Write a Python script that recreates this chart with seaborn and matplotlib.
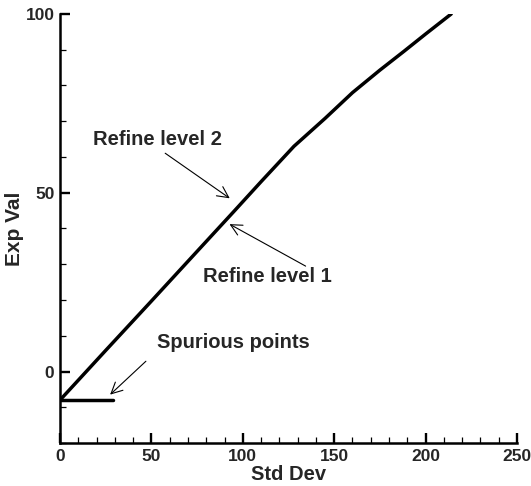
import numpy as np
import pandas as pd
import matplotlib
matplotlib.use("Agg")
import matplotlib.pyplot as plt
import seaborn as sns
from matplotlib.ticker import MultipleLocator

# main curve
std_dev = [0, 25, 50, 75, 95, 110, 128, 145, 160, 175, 188, 200, 214]
exp_val = [-8, 5.9, 19.7, 33.6, 44.7, 53.1, 63, 70.8, 78, 84.3, 89.5, 94.4, 100]

# spurious points along the bottom
spur_x = [0, 29]
spur_y = [-8, -8]

sns.set_style("ticks")
plt.rcParams["font.family"] = ["Liberation Sans", "DejaVu Sans"]
plt.rcParams["font.weight"] = "bold"

fig = plt.figure(figsize=(5.31, 4.86), dpi=100)
ax = fig.add_axes([60 / 531, 43 / 486, 457 / 531, 429 / 486])

df = pd.DataFrame({"Std Dev": std_dev, "Exp Val": exp_val})
sns.lineplot(data=df, x="Std Dev", y="Exp Val", color="black", lw=2.5,
             sort=False, estimator=None, ax=ax)
spur = pd.DataFrame({"Std Dev": spur_x, "Exp Val": spur_y})
sns.lineplot(data=spur, x="Std Dev", y="Exp Val", color="black", lw=2.5,
             sort=False, estimator=None, ax=ax)

ax.set_xlim(0, 250)
ax.set_ylim(-20, 100)
ax.xaxis.set_major_locator(MultipleLocator(50))
ax.xaxis.set_minor_locator(MultipleLocator(10))
ax.yaxis.set_major_locator(MultipleLocator(50))
ax.yaxis.set_minor_locator(MultipleLocator(10))
ax.set_yticks([0, 50, 100])

sns.despine(ax=ax)
for s in ["left", "bottom"]:
    ax.spines[s].set_linewidth(1.8)
    ax.spines[s].set_color("black")

ax.tick_params(which="major", direction="in", length=7, width=1.7,
               labelsize=12.5, pad=4, color="black")
ax.tick_params(which="minor", direction="in", length=4, width=0.9, color="black")
for lab in ax.get_xticklabels() + ax.get_yticklabels():
    lab.set_fontweight("bold")

ax.set_xlabel("Std Dev", fontsize=14.5, fontweight="bold", labelpad=1)
ax.set_ylabel("Exp Val", fontsize=15, fontweight="bold", labelpad=1)

arrow = dict(arrowstyle="->", lw=0.8, color="black", mutation_scale=20)
ax.annotate("", xy=(94.1, 48.0), xytext=(56.3, 61.5), arrowprops=arrow)
ax.text(18.1, 64.8, "Refine level 2", fontsize=14.5, fontweight="bold",
        va="center", ha="left")
ax.annotate("", xy=(91.4, 41.6), xytext=(135.7, 29.1), arrowprops=arrow)
ax.text(78.2, 26.5, "Refine level 1", fontsize=14.5, fontweight="bold",
        va="center", ha="left")
ax.annotate("", xy=(26.3, -7.0), xytext=(48.1, 3.4), arrowprops=arrow)
ax.text(53.1, 8.1, "Spurious points", fontsize=14.5, fontweight="bold",
        va="center", ha="left")

fig.savefig("out.png", dpi=100)
